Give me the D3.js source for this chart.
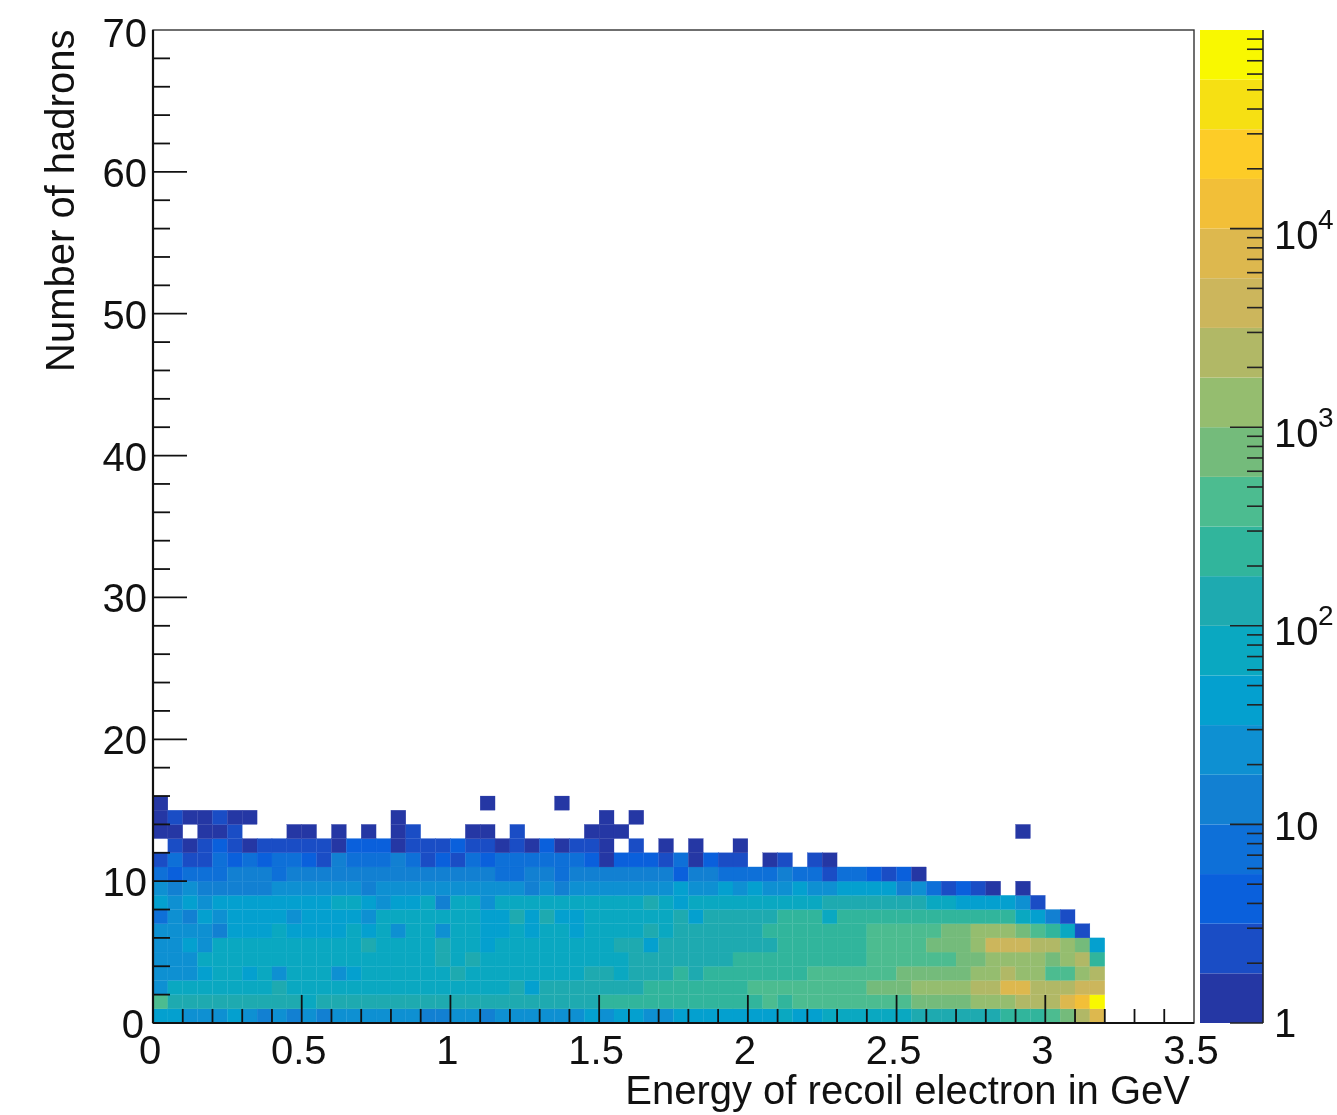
<!DOCTYPE html>
<html><head><meta charset="utf-8">
<script src="https://cdn.jsdelivr.net/npm/d3@7"></script>
<style>html,body{margin:0;padding:0;background:#fff}svg{display:block;filter:blur(0.6px)}text{font-family:"Liberation Sans",Arial,sans-serif;fill:#111}</style>
</head><body><div id="chart"></div>
<script>
const xLabel="Energy of recoil electron in GeV", yLabel="Number of hadrons";
const xTicks=[0,0.5,1,1.5,2,2.5,3,3.5], yTicks=[0,10,20,30,40,50,60,70];
const zDecades=[1,10,100,1000,10000];
const binW=0.05, binH=1, zMax=1e5, nLevels=20;
const palette=["#2537a4","#1a4dc5","#0a60dc","#0e70d8","#1280d2","#0e90d2","#04a0cf","#0aa8c1","#1eaab0","#31b59c","#4cbc90","#74bb7b","#95bd6f","#b1b866","#ccb65c","#ddb84e","#f2bf38","#fdcc27","#f6e013","#f9f800"];
// Counts per bin, rows from 0 hadrons upward, 64 energy bins each (0 = empty)
const row0=[42,42,24,24,24,42,24,13,24,13,24,13,24,24,24,24,24,24,13,13,24,24,13,24,24,24,24,24,24,42,24,42,42,24,24,42,42,42,42,42,42,42,75,42,42,75,75,75,75,75,75,130,130,130,130,130,130,240,240,240,420,750,2400,7500];
const row1=[420,130,130,130,130,130,130,130,130,130,75,130,130,130,130,130,130,130,130,130,130,130,130,130,130,130,130,130,130,130,240,240,240,240,240,240,240,240,240,240,240,420,240,420,420,420,420,420,420,420,420,750,750,750,750,1300,1300,1300,2400,2400,3000,7500,13000,75000];
const row2=[24,75,75,75,75,75,75,75,130,75,75,75,75,75,75,75,75,75,75,75,75,75,75,75,130,42,130,130,130,130,130,130,130,240,240,240,240,240,240,240,420,420,420,420,420,420,420,420,750,750,750,1300,1300,1300,1300,2400,2400,7500,7500,2400,2400,2400,4200,4200];
const row3=[24,24,24,42,75,75,42,75,24,75,75,75,24,42,75,75,75,75,75,75,130,75,75,75,75,75,75,75,75,130,130,75,130,130,130,240,130,240,240,240,240,240,240,240,420,420,420,420,420,420,750,750,750,750,750,1300,1300,2400,1300,1300,420,420,1300,2400];
const row4=[24,24,24,75,75,75,75,75,75,75,75,75,75,75,75,75,75,75,75,130,75,130,75,75,75,75,75,75,75,75,75,75,130,130,130,130,130,130,130,240,240,240,240,240,240,240,240,240,420,420,420,420,420,420,750,750,1300,1300,1300,1300,750,1300,2400,240];
const row5=[24,24,42,24,75,75,75,75,75,75,75,75,75,75,130,75,75,75,75,130,75,75,42,75,75,75,75,75,75,75,75,130,130,42,130,130,130,130,130,130,130,130,240,240,240,240,240,240,420,420,420,420,750,750,750,1300,4200,4200,4200,2400,2400,1300,750,42];
const row6=[24,24,24,24,13,42,42,42,75,42,42,42,42,75,42,75,24,75,75,24,75,75,42,42,75,42,75,75,42,75,75,75,75,130,75,130,130,130,130,130,130,240,240,240,240,240,240,240,420,420,420,420,420,750,750,1300,1300,1300,750,420,240,75,2];
const row7=[7,24,13,42,24,42,42,42,42,24,42,42,42,42,24,75,75,75,75,75,75,75,42,42,130,42,130,42,42,75,75,75,75,75,75,130,42,130,130,130,130,130,240,240,240,75,240,240,240,240,240,240,240,240,240,240,240,240,75,42,13,2];
const row8=[42,24,42,24,42,42,42,42,42,42,42,42,75,75,42,24,42,42,75,13,75,75,24,75,75,75,75,75,75,75,75,75,75,130,75,42,75,75,75,75,75,75,75,75,75,130,130,130,130,130,130,130,75,75,42,42,42,42,24,2];
const row9=[24,13,24,13,13,13,13,13,24,24,24,24,24,24,13,24,24,24,24,24,24,24,24,24,24,13,24,13,24,24,24,24,24,24,24,42,24,24,42,24,42,24,24,42,24,24,42,42,42,42,13,24,7,2,4,2,1,0,1];
const row10=[7,4,7,7,7,13,13,13,7,13,13,13,13,13,13,13,13,13,13,13,13,13,13,7,7,13,13,7,13,13,13,13,13,13,13,4,13,13,7,7,7,7,13,7,7,2,7,7,4,2,4,1];
const row11=[2,7,2,2,7,4,7,4,7,7,4,2,13,7,7,7,13,7,2,4,2,7,4,7,7,7,7,7,7,4,1,4,4,4,2,7,1,4,2,2,0,1,2,0,2,1];
const row12=[0,2,1,2,4,2,1,2,2,2,2,2,1,4,4,4,1,2,2,2,4,2,2,1,2,1,4,1,2,2,1,0,2,0,1,0,1,0,0,1];
const row13=[1,1,0,1,1,2,0,0,0,1,1,0,1,0,1,0,1,2,0,0,0,1,1,0,2,0,0,0,0,1,1,1,0,0,0,0,0,0,0,0,0,0,0,0,0,0,0,0,0,0,0,0,0,0,0,0,0,0,1];
const row14=[1,2,1,1,2,1,1,0,0,0,0,0,0,0,0,0,1,0,0,0,0,0,0,0,0,0,0,0,0,0,1,0,1];
const row15=[1,0,0,0,0,0,0,0,0,0,0,0,0,0,0,0,0,0,0,0,0,0,1,0,0,0,0,1];
const rows=[row0,row1,row2,row3,row4,row5,row6,row7,row8,row9,row10,row11,row12,row13,row14,row15];
const W=1337,H=1115, L=153,R=1194,T=30,B=1023, CL=1200,CR=1263;
const x=d3.scaleLinear().domain([0,3.5]).range([L,R]);
const y=d3.scaleLinear().domain([0,70]).range([B,T]);
const z=d3.scaleLog().domain([1,zMax]).range([B,T]);
const colorZ=d3.scaleQuantize().domain([0,Math.log10(zMax)]).range(palette);
const svg=d3.select("#chart").append("svg").attr("width",W).attr("height",H);
const cells=[];
rows.forEach((r,j)=>r.forEach((v,i)=>{if(v>0)cells.push({i,j,v});}));
svg.append("g").selectAll("rect").data(cells).join("rect")
 .attr("x",d=>x(d.i*binW)).attr("width",d=>x((d.i+1)*binW)-x(d.i*binW))
 .attr("y",d=>y((d.j+1)*binH)).attr("height",d=>y(d.j*binH)-y((d.j+1)*binH))
 .attr("fill",d=>colorZ(Math.log10(d.v)))
 .attr("stroke",d=>colorZ(Math.log10(d.v))).attr("stroke-width",0.25);
// frame
svg.append("rect").attr("x",L).attr("y",T).attr("width",R-L).attr("height",B-T).attr("fill","none").attr("stroke","#333").attr("stroke-width",1.4);
// ticks
const fs=40;
svg.append("g").selectAll("line").data(d3.range(1,35)).join("line")
 .attr("x1",d=>x(d/10)).attr("x2",d=>x(d/10)).attr("y1",B).attr("y2",d=>B-(d%5==0?28:14)).attr("stroke","#111").attr("stroke-width",1.8);
svg.append("g").selectAll("line").data(d3.range(1,35)).join("line")
 .attr("y1",d=>y(d*2)).attr("y2",d=>y(d*2)).attr("x1",L).attr("x2",d=>L+(d%5==0?34:17)).attr("stroke","#111").attr("stroke-width",1.8);
svg.append("line").attr("x1",L).attr("x2",L).attr("y1",T).attr("y2",B).attr("stroke","#111").attr("stroke-width",2.2);
svg.append("line").attr("x1",L).attr("x2",R).attr("y1",B).attr("y2",B).attr("stroke","#111").attr("stroke-width",2.2);
// tick labels
svg.append("g").selectAll("text").data(xTicks).join("text").attr("x",d=>x(d)-3).attr("y",1064).attr("text-anchor","middle").attr("font-size",fs).text(d=>d);
svg.append("g").selectAll("text").data(yTicks).join("text").attr("x",d=>d==0?144:147).attr("y",d=>y(d)+(d==70?17:15)).attr("text-anchor","end").attr("font-size",fs).text(d=>d);
svg.append("text").attr("x",1190).attr("y",1104).attr("text-anchor","end").attr("font-size",fs).text(xLabel);
svg.append("text").attr("transform","translate(74,372) rotate(-90)").attr("font-size",fs).text(yLabel);
// colour bar
const bands=d3.range(nLevels);
svg.append("g").selectAll("rect").data(bands).join("rect")
 .attr("x",CL).attr("width",CR-CL)
 .attr("y",d=>z(Math.pow(10,(d+1)*Math.log10(zMax)/nLevels)))
 .attr("height",d=>z(Math.pow(10,d*Math.log10(zMax)/nLevels))-z(Math.pow(10,(d+1)*Math.log10(zMax)/nLevels)))
 .attr("fill",d=>palette[d]);
svg.append("line").attr("x1",CR).attr("x2",CR).attr("y1",T).attr("y2",B).attr("stroke","#222").attr("stroke-width",1.6);
const zT=[];zDecades.forEach(t=>{for(let m=1;m<10;m++){if(t*m<=zMax)zT.push({v:t*m,maj:m==1});}});
svg.append("g").selectAll("line").data(zT).join("line").attr("x1",d=>CR-(d.maj?33:16)).attr("x2",CR)
 .attr("y1",d=>z(d.v)).attr("y2",d=>z(d.v)).attr("stroke","#222").attr("stroke-width",1.6);
const zOff={1:14,10:16,100:19,1000:20,10000:20};
const zL=svg.append("g").selectAll("g").data(zDecades).join("g");
zL.each(function(d){const g=d3.select(this), base=z(d)+zOff[d];
 if(d<100){g.append("text").attr("x",1274).attr("y",base).attr("font-size",fs).text(d);}
 else{g.append("text").attr("x",1274).attr("y",base).attr("font-size",fs).text("10");
  g.append("text").attr("x",1318).attr("y",base-20).attr("font-size",28).text(Math.round(Math.log10(d)));}
});
</script></body></html>
